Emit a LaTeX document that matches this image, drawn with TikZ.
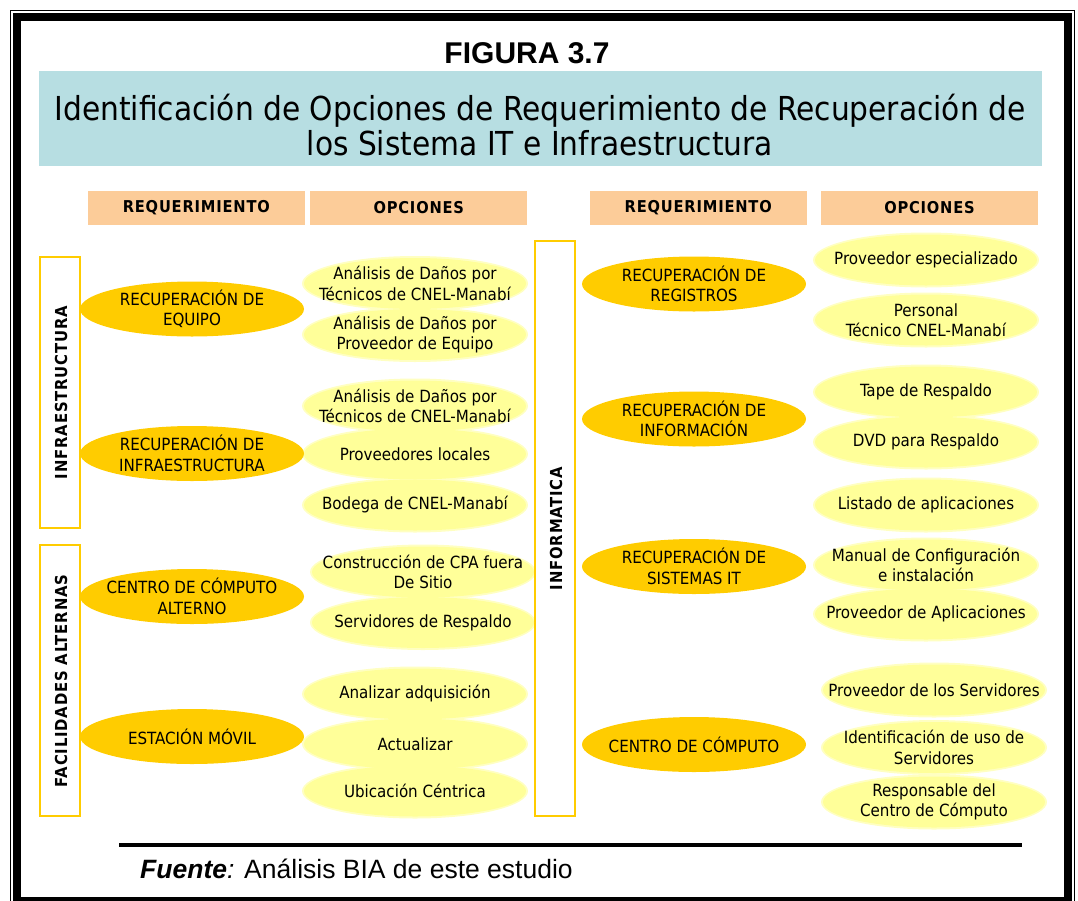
\documentclass[tikz,border=0pt]{standalone}
\usepackage{fontspec}
\setmainfont[BoldFont={DejaVu Sans Condensed Bold}]{DejaVu Sans Condensed}
\newfontfamily\arial{Liberation Sans}
\usetikzlibrary{shapes.geometric}
\pgfdeclarelayer{halo}
\pgfsetlayers{halo,main}
\definecolor{gold}{RGB}{255,204,0}
\definecolor{lyel}{RGB}{255,255,153}
\definecolor{peach}{RGB}{252,204,153}
\definecolor{tblue}{RGB}{183,222,226}
\tikzset{
  reqbg/.style={ellipse, fill=gold, minimum width=224pt, minimum height=55pt, inner sep=0pt},
  optbg/.style={ellipse, fill=lyel, minimum width=222pt, minimum height=51pt, inner sep=0pt},
  txt/.style={align=center, inner sep=0pt, font=\fontsize{16.8}{20.5}\selectfont},
  hdr/.style={fill=peach, minimum width=217pt, minimum height=34pt, inner sep=0pt,
    font=\fontsize{16.3}{18}\selectfont\bfseries\addfontfeature{LetterSpace=5}},
  grp/.style={draw=gold, line width=2pt},
  vlab/.style={rotate=90, inner sep=0pt, font=\fontsize{16.5}{18}\selectfont\bfseries\addfontfeature{LetterSpace=5}}
}
\newcommand\reqnode[4]{\node[reqbg] (#1) at (#2,#3) {};\node[txt] (#1t) at (#1.center) {#4};}
\newcommand\optnode[4]{%
  \begin{pgfonlayer}{halo}\fill[lyel!60] (#2,#3) ellipse [x radius=113pt, y radius=27.5pt];\end{pgfonlayer}
  \node[optbg] (#1) at (#2,#3) {};\node[txt] (#1t) at (#1.center) {#4};}
\begin{document}
\begin{tikzpicture}[x=1pt,y=-1pt]
\useasboundingbox (0,0) rectangle (1078,900);
% frame
\draw[line width=1.6pt] (10.3,10.3) rectangle (1074.5,915);
\draw[line width=7.7pt] (17.3,17.2) rectangle (1068.3,901);
% title
\node[anchor=base, inner sep=0pt, font=\arial\bfseries\fontsize{30}{34}\selectfont] (fig) at (527,63) {FIGURA 3.7};
\fill[tblue] (39,71) rectangle (1042,166);
\node[anchor=base, inner sep=0pt, font=\fontsize{33}{36}\selectfont] (t1) at (540,120.7) {Identificación de Opciones de Requerimiento de Recuperación de};
\node[anchor=base, inner sep=0pt, font=\fontsize{33}{36}\selectfont] (t2) at (540,155) {los Sistema IT e Infraestructura};
% headers
\node[hdr] (h1) at (196.3,207.5) {REQUERIMIENTO};
\node[hdr] (h2) at (418.8,207.5) {OPCIONES};
\node[hdr] (h3) at (698.2,207.5) {REQUERIMIENTO};
\node[hdr] (h4) at (929.5,207.5) {OPCIONES};
% group boxes
\draw[grp] (40,257) rectangle (80,528);
\draw[grp] (40,545) rectangle (80,816);
\draw[grp] (535,241) rectangle (575,816);
\node[vlab] (g1) at (61,392.5) {INFRAESTRUCTURA};
\node[vlab] (g2) at (61,681) {FACILIDADES ALTERNAS};
\node[vlab] (g3) at (556,528.5) {INFORMATICA};
% requirements
\reqnode{r1}{192}{309}{RECUPERACIÓN DE\\EQUIPO}
\reqnode{r2}{192}{453.5}{RECUPERACIÓN DE\\INFRAESTRUCTURA}
\reqnode{r3}{192}{596.5}{CENTRO DE CÓMPUTO\\ALTERNO}
\reqnode{r4}{192}{736.5}{ESTACIÓN MÓVIL}
\reqnode{r5}{694}{284}{RECUPERACIÓN DE\\REGISTROS}
\reqnode{r6}{694}{419}{RECUPERACIÓN DE\\INFORMACIÓN}
\reqnode{r7}{694}{566.5}{RECUPERACIÓN DE\\SISTEMAS IT}
\reqnode{r8}{694}{744.5}{CENTRO DE CÓMPUTO}
% options
\optnode{o1}{415}{283.5}{Análisis de Daños por\\Técnicos de CNEL-Manabí}
\optnode{o2}{415}{334.5}{Análisis de Daños por\\Proveedor de Equipo}
\optnode{o3}{415}{406}{Análisis de Daños por\\Técnicos de CNEL-Manabí}
\optnode{o4}{415}{454}{Proveedores locales}
\optnode{o5}{415}{505}{Bodega de CNEL-Manabí}
\optnode{o6}{423}{572}{Construcción de CPA fuera\\De Sitio}
\optnode{o7}{423}{622.5}{Servidores de Respaldo}
\optnode{o8}{415}{694}{Analizar adquisición}
\optnode{o9}{415}{744}{Actualizar}
\optnode{o10}{415}{791}{Ubicación Céntrica}
\optnode{o11}{926}{260}{Proveedor especializado}
\optnode{o12}{926}{320}{Personal\\Técnico CNEL-Manabí}
\optnode{o13}{926}{392}{Tape de Respaldo}
\optnode{o14}{926}{442}{DVD para Respaldo}
\optnode{o15}{926}{505}{Listado de aplicaciones}
\optnode{o16}{926}{565}{Manual de Configuración\\e instalación}
\optnode{o17}{926}{614}{Proveedor de Aplicaciones}
\optnode{o18}{934}{690}{Proveedor de los Servidores}
\optnode{o19}{934}{747.5}{Identificación de uso de\\Servidores}
\optnode{o20}{934}{802}{Responsable del\\Centro de Cómputo}
% footer
\coordinate (fa) at (119,844.5);
\coordinate (fb) at (1022,844.5);
\draw[line width=4pt] (fa) -- (fb);
\node[anchor=base west, inner sep=0pt, font=\arial\fontsize{26.5}{30}\selectfont] (src) at (140,878) {\textbf{\textit{Fuente}}\textit{:} Análisis BIA de este estudio};
\end{tikzpicture}
\end{document}
